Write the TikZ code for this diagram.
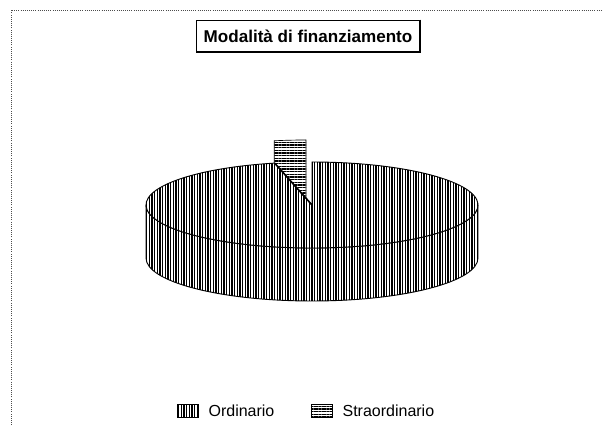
\documentclass[tikz,border=0pt]{standalone}
\usepackage{fontspec}
\setmainfont{Liberation Sans}
\usepackage{tikz}
\usetikzlibrary{positioning}
\usetikzlibrary{patterns.meta}

\tikzset{
  ordfill/.style={pattern={Lines[angle=90,distance=2pt,line width=1pt]}},
  strafill/.style={pattern={Lines[angle=0,distance=2pt,line width=1pt]}},
  keybox/.style={draw, line width=0.5pt, minimum width=16pt, minimum height=10pt, inner sep=0pt},
  keytext/.style={font=\fontsize{12}{14}\selectfont, inner sep=0pt}
}

\begin{document}
\begin{tikzpicture}[x=0.75pt,y=0.75pt]
			\useasboundingbox (0,0) rectangle (603,425);
			% frame of the chart
			\draw[densely dotted, line width=0.6pt, black!70] (11,0) -- (11,415) -- (603,415);
			% title
			\node[draw, line width=0.4pt, minimum width=167pt, minimum height=24pt, font=\bfseries\fontsize{12.8}{14}\selectfont] (Title) at (308,389) {Modalità di finanziamento};
			\draw[line width=1.6pt] (Title.north east) -- (Title.south east) -- (Title.south west);
			% exploded slice (Straordinario)
			\filldraw[strafill, line width=0.5pt] (306,242) -- +(90:166 and 43) arc[start angle=90, end angle=101, x radius=166, y radius=43] -- ++(0,-55) -- (306,187) -- cycle;
			% side of the pie (Ordinario)
			\fill[white] (146,220) arc[start angle=180, end angle=360, x radius=166, y radius=43] -- ++(0,-53) arc[start angle=360, end angle=180, x radius=166, y radius=43] -- cycle;
			\filldraw[ordfill, line width=0.7pt] (146,220) arc[start angle=180, end angle=360, x radius=166, y radius=43] -- ++(0,-53) arc[start angle=360, end angle=180, x radius=166, y radius=43] -- cycle;
			% top of the pie (Ordinario)
			\fill[white] (312,220) -- +(103:166 and 43) arc[start angle=103, end angle=450, x radius=166, y radius=43] -- cycle;
			\filldraw[ordfill, line width=0.7pt] (312,220) -- +(103:166 and 43) arc[start angle=103, end angle=450, x radius=166, y radius=43] -- cycle;
			\draw[line width=1.2pt] (312,220) -- +(103:166 and 43);
			% legend
			\node[keybox, ordfill] (KeyOrd) at (188,14) {};
			\node[keytext, right=7pt of KeyOrd] (Ord) {Ordinario};
			\node[keybox, strafill] (KeyStra) at (322,14) {};
			\node[keytext, right=7pt of KeyStra] (Stra) {Straordinario};
		\end{tikzpicture}
\end{document}
